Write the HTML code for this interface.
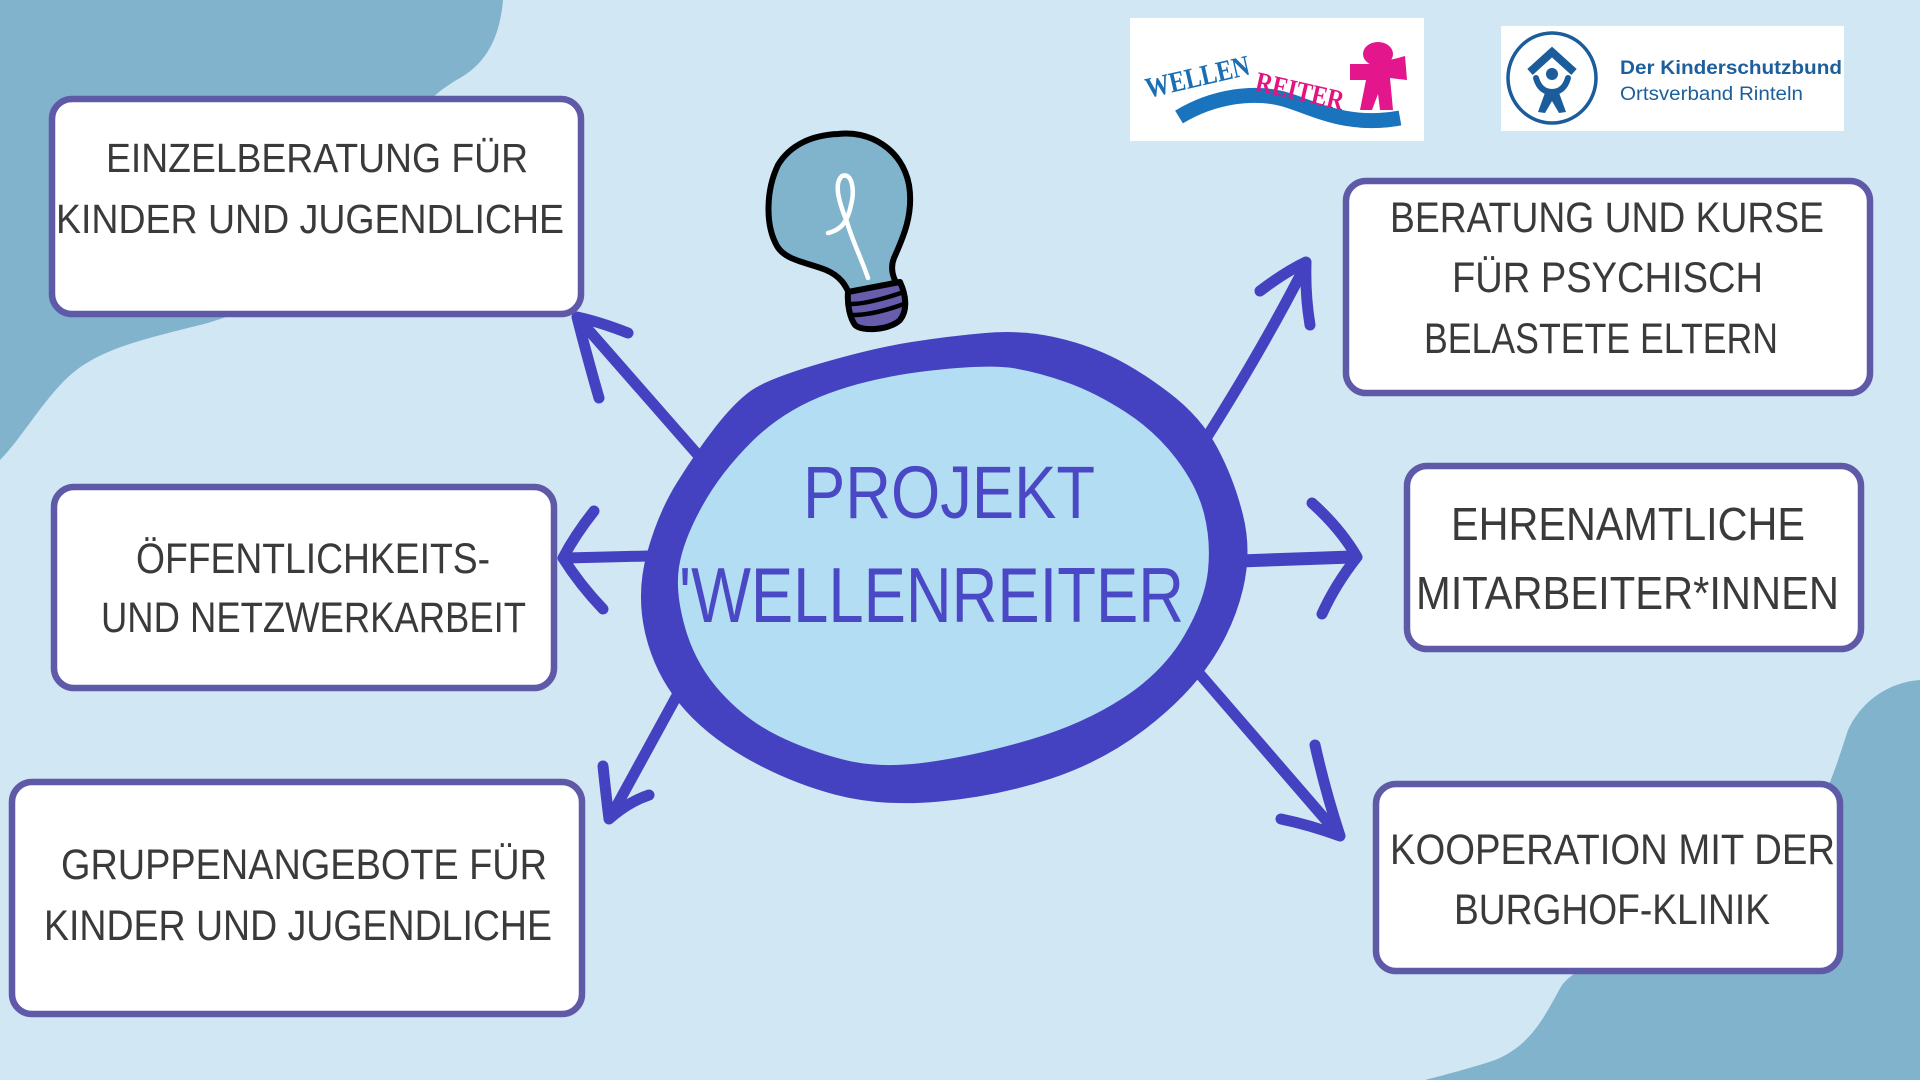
<!DOCTYPE html>
<html>
<head>
<meta charset="utf-8">
<style>
  html, body { margin: 0; padding: 0; background: #d1e7f3; }
  svg { display: block; }
  .bt { font-family: "Liberation Sans", "DejaVu Sans", sans-serif; fill: #3a3a3a; }
  .ct { font-family: "Liberation Sans", "DejaVu Sans", sans-serif; fill: #4b48c5; }
</style>
</head>
<body>
<svg width="1920" height="1080" viewBox="0 0 1920 1080" xmlns="http://www.w3.org/2000/svg">
  <!-- background -->
  <rect x="0" y="0" width="1920" height="1080" fill="#d1e7f3"/>
  <!-- blobs -->
  <path d="M0,0 H503 C500,35 488,62 460,78 C420,100 380,150 330,230 C290,290 250,312 200,325 C140,340 95,350 65,380 C40,405 20,440 0,460 Z" fill="#82b3cc"/>
  <path d="M1920,680 C1890,682 1862,700 1848,730 C1835,770 1820,820 1780,870 C1700,930 1590,950 1562,985 C1545,1015 1532,1045 1495,1060 C1465,1070 1440,1076 1425,1080 L1920,1080 Z" fill="#82b3cc"/>

  <!-- logos -->
  <rect x="1130" y="18" width="294" height="123" fill="#ffffff"/>
  <path d="M1179,117 C1212,97 1255,89 1290,101 C1320,111 1350,127 1400,118" fill="none" stroke="#1a74bd" stroke-width="15" stroke-linecap="butt"/>
  <text x="1148" y="98" transform="rotate(-13 1148 98)" font-family="Liberation Serif, serif" font-weight="bold" font-size="29" fill="#1b6eb4" textLength="106" lengthAdjust="spacingAndGlyphs">WELLEN</text>
  <text x="1254" y="90" transform="rotate(13 1254 90)" font-family="Liberation Serif, serif" font-weight="bold" font-size="28" fill="#e3147f" textLength="90" lengthAdjust="spacingAndGlyphs">REITER</text>
  <ellipse cx="1378" cy="54" rx="15" ry="12" fill="#e3168b"/>
  <path d="M1350,64 L1372,64 L1398,58 L1405,56 L1407,80 L1390,78 L1393,110 L1380,110 L1378,94 L1372,110 L1360,110 L1366,80 L1350,80 Z" fill="#e3168b"/>

  <rect x="1501" y="26" width="343" height="105" fill="#ffffff"/>
  <ellipse cx="1552" cy="78" rx="44" ry="45" fill="none" stroke="#1b5c9b" stroke-width="3.5"/>
  <path d="M1530,72 L1552,52 L1574,72" fill="none" stroke="#1b5c9b" stroke-width="8" stroke-linejoin="miter"/>
  <circle cx="1552" cy="74" r="6" fill="#1b5c9b"/>
  <path d="M1536,78 Q1540,92 1552,92 Q1564,92 1568,78" fill="none" stroke="#1b5c9b" stroke-width="6" stroke-linecap="round"/>
  <path d="M1546,90 L1558,90 L1566,112 L1559,113 L1552,101 L1545,113 L1538,112 Z" fill="#1b5c9b"/>
  <text x="1620" y="74" font-family="Liberation Sans, sans-serif" font-weight="bold" font-size="19" fill="#1d5f9c" textLength="222" lengthAdjust="spacingAndGlyphs">Der Kinderschutzbund</text>
  <text x="1620" y="100" font-family="Liberation Sans, sans-serif" font-size="19" fill="#1d5f9c" textLength="183" lengthAdjust="spacingAndGlyphs">Ortsverband Rinteln</text>

  <!-- light bulb -->
  <path d="M838,134 C868,130 902,148 909,185 C914,215 902,240 894,258 C890,268 893,278 898,286 L850,296 C846,285 840,276 826,270 C805,262 785,260 777,246 C765,225 766,190 778,165 C790,145 812,135 838,134 Z" fill="#80b3cc" stroke="#000000" stroke-width="6" stroke-linejoin="round"/>
  <path d="M848,292 L900,282 C906,295 908,310 900,320 C890,330 862,332 855,325 C850,318 847,305 848,292 Z" fill="#665ead" stroke="#000000" stroke-width="6" stroke-linejoin="round"/>
  <path d="M851,304 C866,304 886,298 904,292 M853,315 C869,315 890,309 904,304" fill="none" stroke="#000000" stroke-width="4.5" stroke-linecap="round"/>
  <path d="M868,278 C860,255 852,240 847,222 C838,200 834,183 842,176 C852,172 855,190 851,205 C848,220 842,230 828,233" fill="none" stroke="#ffffff" stroke-width="4.5" stroke-linecap="round" stroke-linejoin="round"/>

  <!-- arrows -->
  <g fill="none" stroke="#4542c1" stroke-width="11" stroke-linecap="round" stroke-linejoin="round">
    <path d="M705,463 L578,318"/>
    <path d="M628,333 Q600,322 577,317 Q588,360 599,398"/>
    <path d="M648,556 L566,558"/>
    <path d="M594,511 Q575,535 563,558 Q580,585 603,609"/>
    <path d="M680,690 L610,818"/>
    <path d="M603,766 Q606,795 609,819 Q628,802 649,795"/>
    <path d="M1205,440 Q1262,350 1304,268"/>
    <path d="M1260,291 Q1285,272 1306,262 Q1305,295 1310,325"/>
    <path d="M1240,561 L1352,557" stroke-width="13"/>
    <path d="M1312,503 Q1340,528 1357,557 Q1335,585 1322,614"/>
    <path d="M1198,672 L1338,834"/>
    <path d="M1315,745 Q1325,790 1340,836 Q1310,825 1281,819"/>
  </g>

  <!-- central ellipse -->
  <path d="M911.5,342 Q950,336 985,333 Q1020,330 1051.5,336.5 Q1083,343 1110.5,356 Q1138,369 1169.5,393 Q1201,417 1217.5,448 Q1234,479 1243,515 Q1252,551 1243,589 Q1234,627 1211,661.5 Q1188,696 1146,728.5 Q1104,761 1051.5,778.5 Q999,796 940,801.5 Q881,807 834.5,794.5 Q788,782 746,758 Q704,734 679,703 Q654,672 645,632.5 Q636,593 647,553 Q658,513 677,482.5 Q696,452 715,427.5 Q734,403 750.5,391 Q767,379 820,363.5 Q873,348 911.5,342 Z" fill="#4542c1"/>
  <path d="M931.5,370.5 Q990,364 1015.5,368.5 Q1041,373 1068.5,383 Q1096,393 1125.5,412 Q1155,431 1176,458.5 Q1197,486 1204,513.5 Q1211,541 1208,570.5 Q1205,600 1184,636 Q1163,672 1123,698 Q1083,724 1030.5,739.5 Q978,755 929.5,762 Q881,769 845,760 Q809,751 777.5,735.5 Q746,720 721,692.5 Q696,665 685.5,629 Q675,593 679,567 Q683,541 702,506.5 Q721,472 752.5,441 Q784,410 828.5,393.5 Q873,377 931.5,370.5 Z" fill="#b3ddf2"/>
  <text class="ct" x="803" y="518" font-size="74" textLength="292" lengthAdjust="spacingAndGlyphs">PROJEKT</text>
  <text class="ct" x="679" y="622" font-size="78" textLength="505" lengthAdjust="spacingAndGlyphs">'WELLENREITER</text>

  <!-- boxes -->
  <g fill="#ffffff" stroke="#5f5aa8" stroke-width="6.5">
    <rect x="52" y="99" width="529" height="215" rx="20"/>
    <rect x="1346" y="181" width="524" height="212" rx="20"/>
    <rect x="54" y="487" width="500" height="201" rx="20"/>
    <rect x="12" y="782" width="570" height="232" rx="20"/>
    <rect x="1407" y="466" width="454" height="183" rx="20"/>
    <rect x="1376" y="784" width="464" height="187" rx="20"/>
  </g>

  <!-- box texts -->
  <g class="bt" font-size="43">
    <text x="106" y="172" font-size="41" textLength="422" lengthAdjust="spacingAndGlyphs">EINZELBERATUNG FÜR</text>
    <text x="56" y="233" font-size="41" textLength="508" lengthAdjust="spacingAndGlyphs">KINDER UND JUGENDLICHE</text>

    <text x="1390" y="232" textLength="434" lengthAdjust="spacingAndGlyphs">BERATUNG UND KURSE</text>
    <text x="1452" y="292" textLength="311" lengthAdjust="spacingAndGlyphs">FÜR PSYCHISCH</text>
    <text x="1424" y="353" textLength="354" lengthAdjust="spacingAndGlyphs">BELASTETE ELTERN</text>

    <text x="136" y="573" textLength="354" lengthAdjust="spacingAndGlyphs">ÖFFENTLICHKEITS-</text>
    <text x="101" y="632" textLength="425" lengthAdjust="spacingAndGlyphs">UND NETZWERKARBEIT</text>

    <text x="61" y="879" textLength="486" lengthAdjust="spacingAndGlyphs">GRUPPENANGEBOTE FÜR</text>
    <text x="44" y="940" textLength="508" lengthAdjust="spacingAndGlyphs">KINDER UND JUGENDLICHE</text>

    <text x="1451" y="540" font-size="46" textLength="354" lengthAdjust="spacingAndGlyphs">EHRENAMTLICHE</text>
    <text x="1416" y="609" font-size="46" textLength="423" lengthAdjust="spacingAndGlyphs">MITARBEITER*INNEN</text>

    <text x="1390" y="864" textLength="445" lengthAdjust="spacingAndGlyphs">KOOPERATION MIT DER</text>
    <text x="1454" y="924" textLength="316" lengthAdjust="spacingAndGlyphs">BURGHOF-KLINIK</text>
  </g>
</svg>
</body>
</html>
